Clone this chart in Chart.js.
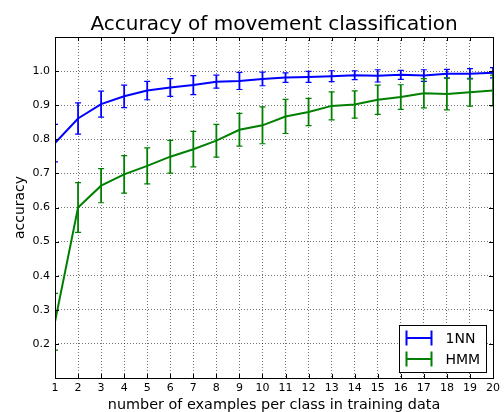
<!DOCTYPE html>
<html><head><meta charset="utf-8">
<script src="https://cdn.jsdelivr.net/npm/chart.js@4/dist/chart.umd.min.js"></script>
<style>html,body{margin:0;padding:0;background:#fff;}</style>
</head><body>
<canvas id="c" width="504" height="412" style="width:504px;height:412px;display:block"></canvas>
<script>
const examples = [1,2,3,4,5,6,7,8,9,10,11,12,13,14,15,16,17,18,19,20];
const nnMean = [0.789,0.861,0.903,0.926,0.943,0.952,0.959,0.969,0.971,0.977,0.981,0.983,0.985,0.988,0.986,0.989,0.987,0.992,0.992,0.995];
const nnErr  = [0.055,0.046,0.038,0.033,0.027,0.026,0.028,0.019,0.025,0.020,0.014,0.016,0.016,0.013,0.018,0.013,0.017,0.013,0.015,0.015];
const hmmMean = [0.265,0.600,0.664,0.697,0.722,0.749,0.771,0.796,0.828,0.841,0.867,0.880,0.898,0.902,0.916,0.924,0.935,0.933,0.938,0.943];
const hmmErr  = [0.083,0.073,0.050,0.055,0.053,0.048,0.052,0.048,0.048,0.054,0.050,0.040,0.041,0.040,0.043,0.036,0.043,0.047,0.041,0.045];
const seriesNames = ['1NN','HMM'];
const chartTitle = 'Accuracy of movement classification';
const xTitle = 'number of examples per class in training data';
const yTitle = 'accuracy';

Chart.defaults.font.family = "'DejaVu Sans', sans-serif";
Chart.defaults.color = '#000';

const errorBars = {
  id: 'errorBars',
  afterDatasetsDraw(chart) {
    const {ctx, chartArea: a, scales: {x, y}} = chart;
    ctx.save();
    ctx.beginPath();
    ctx.rect(a.left, a.top, a.right - a.left, a.bottom - a.top);
    ctx.clip();
    chart.data.datasets.forEach(ds => {
      ctx.strokeStyle = ds.borderColor;
      ds.data.forEach(p => {
        const px = x.getPixelForValue(p.x);
        const y1 = y.getPixelForValue(p.y - p.e);
        const y2 = y.getPixelForValue(p.y + p.e);
        ctx.lineWidth = 1.8;
        ctx.beginPath(); ctx.moveTo(px, y1); ctx.lineTo(px, y2); ctx.stroke();
        ctx.lineWidth = 1.2;
        ctx.beginPath();
        ctx.moveTo(px - 3, y1); ctx.lineTo(px + 3, y1);
        ctx.moveTo(px - 3, y2); ctx.lineTo(px + 3, y2);
        ctx.stroke();
      });
    });
    ctx.restore();
  }
};

const frame = {
  id: 'frame',
  afterDraw(chart) {
    const {ctx, chartArea: a, scales: {x, y}} = chart;
    ctx.save();
    // title centred over the plot area
    ctx.fillStyle = '#000';
    ctx.font = "20px 'DejaVu Sans'";
    ctx.textAlign = 'center';
    ctx.textBaseline = 'alphabetic';
    ctx.fillText(chartTitle, (a.left + a.right) / 2, a.top - 7);
    ctx.strokeStyle = '#000';
    ctx.lineWidth = 1;
    ctx.beginPath();
    x.ticks.forEach(t => {
      const px = Math.round(x.getPixelForValue(t.value)) + 0.5;
      ctx.moveTo(px, a.bottom); ctx.lineTo(px, a.bottom - 4);
      ctx.moveTo(px, a.top); ctx.lineTo(px, a.top + 4);
    });
    y.ticks.forEach(t => {
      const py = Math.round(y.getPixelForValue(t.value)) + 0.5;
      ctx.moveTo(a.left, py); ctx.lineTo(a.left + 4, py);
      ctx.moveTo(a.right, py); ctx.lineTo(a.right - 4, py);
    });
    ctx.stroke();
    ctx.strokeRect(Math.round(a.left) + 0.5, Math.round(a.top) + 0.5, Math.round(a.right - a.left), Math.round(a.bottom - a.top));
    // legend
    const bw = 87, bh = 47;
    const bx = Math.round(a.right - 7 - bw) + 0.5, by = Math.round(a.bottom - 6 - bh) + 0.5;
    ctx.fillStyle = '#fff';
    ctx.fillRect(bx, by, bw, bh);
    ctx.strokeStyle = '#000';
    ctx.strokeRect(bx, by, bw, bh);
    chart.data.datasets.forEach((ds, i) => {
      const cy = by + 12.5 + i * 21;
      const x0 = bx + 7, x1 = bx + 32;
      ctx.strokeStyle = ds.borderColor;
      ctx.lineWidth = 2;
      ctx.beginPath();
      ctx.moveTo(x0, cy); ctx.lineTo(x1, cy);
      ctx.moveTo(x0, cy - 7.5); ctx.lineTo(x0, cy + 7.5);
      ctx.moveTo(x1, cy - 7.5); ctx.lineTo(x1, cy + 7.5);
      ctx.stroke();
      ctx.fillStyle = '#000';
      ctx.font = "14px 'DejaVu Sans'";
      ctx.textBaseline = 'middle';
      ctx.textAlign = 'left';
      ctx.fillText(ds.label, bx + 46, cy + 1);
    });
    ctx.restore();
  }
};

new Chart(document.getElementById('c'), {
  type: 'line',
  data: {
    datasets: [
      {label: seriesNames[0], data: examples.map((v, i) => ({x: v, y: nnMean[i], e: nnErr[i]})),
       borderColor: '#0000ff', backgroundColor: '#0000ff', borderWidth: 2, pointRadius: 0, tension: 0},
      {label: seriesNames[1], data: examples.map((v, i) => ({x: v, y: hmmMean[i], e: hmmErr[i]})),
       borderColor: '#008000', backgroundColor: '#008000', borderWidth: 2, pointRadius: 0, tension: 0}
    ]
  },
  options: {
    responsive: false,
    animation: false,
    devicePixelRatio: 1,
    layout: {padding: {left: 12, right: 1, top: 37, bottom: 0}},
    plugins: {
      legend: {display: false},
      tooltip: {enabled: false},
      title: {display: false}
    },
    scales: {
      x: {
        type: 'linear', min: 1, max: 20,
        afterFit: s => { s.height = 34; },
        ticks: {stepSize: 1, font: {size: 11}, color: '#000', padding: 4, maxRotation: 0, autoSkip: false},
        grid: {color: 'rgba(0,0,0,0.55)', lineWidth: 1, drawTicks: false},
        border: {display: false, dash: [1, 2]},
        title: {display: true, text: xTitle, font: {size: 14.4, lineHeight: 1.0}, color: '#000', padding: 0}
      },
      y: {
        type: 'linear', min: 0.1, max: 1.1,
        afterFit: s => { s.width = 43; },
        ticks: {stepSize: 0.1, font: {size: 11}, color: '#000', padding: 5,
                callback: v => (v < 0.15 || v > 1.05) ? '' : v.toFixed(1)},
        grid: {color: 'rgba(0,0,0,0.55)', lineWidth: 1, drawTicks: false},
        border: {display: false, dash: [1, 2]},
        title: {display: true, text: yTitle, font: {size: 14, lineHeight: 1.2}, color: '#000', padding: 0}
      }
    }
  },
  plugins: [errorBars, frame]
});
</script>
</body></html>
